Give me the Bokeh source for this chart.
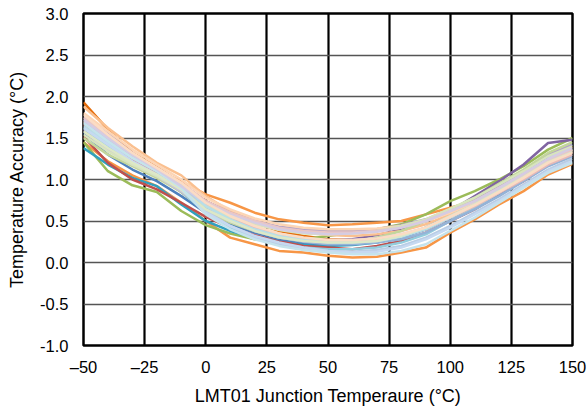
from bokeh.plotting import figure
from bokeh.models import FixedTicker, CustomJSTickFormatter, NumeralTickFormatter, Range1d
from bokeh.embed import file_html
from bokeh.resources import INLINE

temps = [-50, -40, -30, -20, -10, 0, 10, 20, 30, 40, 50, 60, 70, 80, 90, 100, 110, 120, 130, 140, 150]

x_ticks = [-50, -25, 0, 25, 50, 75, 100, 125, 150]
y_ticks = [-1.0, -0.5, 0.0, 0.5, 1.0, 1.5, 2.0, 2.5, 3.0]

unit01 = [1.93, 1.60, 1.32, 1.15, 0.95, 0.74, 0.60, 0.48, 0.38, 0.32, 0.28, 0.27, 0.28, 0.32, 0.40, 0.55, 0.70, 0.85, 1.02, 1.22, 1.40]
unit02 = [1.70, 1.45, 1.25, 1.10, 0.98, 0.82, 0.72, 0.60, 0.52, 0.48, 0.45, 0.46, 0.48, 0.50, 0.58, 0.66, 0.74, 0.90, 1.06, 1.22, 1.36]
unit03 = [1.45, 1.22, 1.05, 0.92, 0.72, 0.50, 0.30, 0.22, 0.14, 0.12, 0.08, 0.06, 0.07, 0.12, 0.18, 0.36, 0.52, 0.70, 0.86, 1.06, 1.19]
unit04 = [1.45, 1.10, 0.93, 0.85, 0.62, 0.45, 0.35, 0.28, 0.26, 0.28, 0.32, 0.36, 0.40, 0.46, 0.58, 0.74, 0.86, 1.00, 1.16, 1.36, 1.50]
unit05 = [1.38, 1.18, 1.02, 0.92, 0.70, 0.50, 0.38, 0.30, 0.25, 0.22, 0.20, 0.21, 0.24, 0.30, 0.42, 0.58, 0.72, 0.88, 1.06, 1.28, 1.42]
unit06 = [1.60, 1.38, 1.22, 1.05, 0.85, 0.62, 0.47, 0.36, 0.30, 0.27, 0.26, 0.28, 0.33, 0.40, 0.50, 0.62, 0.80, 0.98, 1.18, 1.44, 1.48]
unit07 = [1.52, 1.20, 1.00, 0.88, 0.72, 0.55, 0.42, 0.33, 0.26, 0.20, 0.18, 0.16, 0.20, 0.26, 0.36, 0.50, 0.64, 0.82, 0.98, 1.18, 1.32]
unit08 = [1.56, 1.30, 1.12, 0.98, 0.80, 0.60, 0.46, 0.36, 0.28, 0.24, 0.22, 0.22, 0.25, 0.30, 0.40, 0.54, 0.66, 0.82, 1.00, 1.18, 1.30]
unit09 = [1.88, 1.62, 1.40, 1.20, 1.05, 0.80, 0.62, 0.50, 0.42, 0.36, 0.33, 0.32, 0.34, 0.38, 0.46, 0.58, 0.72, 0.88, 1.04, 1.22, 1.35]
unit10 = [1.75, 1.55, 1.32, 1.12, 0.92, 0.74, 0.60, 0.50, 0.43, 0.40, 0.38, 0.38, 0.40, 0.45, 0.52, 0.64, 0.76, 0.92, 1.10, 1.30, 1.42]
unit11 = [1.66, 1.45, 1.25, 1.08, 0.90, 0.68, 0.52, 0.40, 0.31, 0.26, 0.24, 0.24, 0.27, 0.32, 0.42, 0.55, 0.68, 0.85, 1.02, 1.20, 1.33]
unit12 = [1.50, 1.30, 1.16, 1.02, 0.85, 0.62, 0.48, 0.38, 0.30, 0.26, 0.24, 0.25, 0.30, 0.38, 0.50, 0.64, 0.78, 0.95, 1.12, 1.32, 1.45]
unit13 = [1.62, 1.40, 1.20, 1.05, 0.86, 0.60, 0.42, 0.30, 0.22, 0.18, 0.16, 0.16, 0.18, 0.24, 0.34, 0.50, 0.66, 0.84, 1.04, 1.24, 1.37]
unit14 = [1.72, 1.50, 1.28, 1.10, 0.90, 0.66, 0.50, 0.38, 0.30, 0.25, 0.22, 0.22, 0.24, 0.28, 0.36, 0.50, 0.64, 0.80, 0.98, 1.16, 1.28]
unit15 = [1.80, 1.58, 1.36, 1.18, 1.00, 0.78, 0.64, 0.53, 0.46, 0.42, 0.40, 0.40, 0.41, 0.44, 0.50, 0.60, 0.72, 0.88, 1.04, 1.22, 1.34]
unit16 = [1.58, 1.36, 1.18, 1.04, 0.86, 0.64, 0.50, 0.40, 0.33, 0.29, 0.27, 0.27, 0.29, 0.34, 0.42, 0.56, 0.70, 0.86, 1.04, 1.22, 1.34]
unit17 = [1.68, 1.48, 1.28, 1.12, 0.94, 0.70, 0.54, 0.42, 0.34, 0.29, 0.26, 0.26, 0.28, 0.33, 0.41, 0.54, 0.68, 0.84, 1.00, 1.18, 1.30]
unit18 = [1.54, 1.34, 1.18, 1.04, 0.88, 0.68, 0.55, 0.46, 0.39, 0.35, 0.34, 0.35, 0.38, 0.44, 0.52, 0.65, 0.78, 0.94, 1.10, 1.28, 1.40]
unit19 = [1.64, 1.44, 1.26, 1.10, 0.92, 0.68, 0.52, 0.40, 0.32, 0.27, 0.24, 0.24, 0.26, 0.31, 0.40, 0.54, 0.70, 0.87, 1.05, 1.24, 1.36]
unit20 = [1.70, 1.48, 1.30, 1.12, 0.94, 0.62, 0.44, 0.30, 0.22, 0.17, 0.14, 0.13, 0.15, 0.20, 0.30, 0.44, 0.60, 0.76, 0.94, 1.12, 1.25]
unit21 = [1.62, 1.42, 1.22, 1.06, 0.88, 0.60, 0.44, 0.32, 0.24, 0.18, 0.14, 0.12, 0.13, 0.18, 0.28, 0.42, 0.58, 0.74, 0.92, 1.10, 1.22]
unit22 = [1.74, 1.52, 1.30, 1.14, 0.96, 0.74, 0.60, 0.50, 0.42, 0.38, 0.36, 0.36, 0.38, 0.42, 0.50, 0.62, 0.74, 0.90, 1.06, 1.24, 1.36]
unit23 = [1.58, 1.38, 1.20, 1.06, 0.88, 0.64, 0.50, 0.38, 0.30, 0.26, 0.24, 0.24, 0.26, 0.32, 0.42, 0.56, 0.70, 0.86, 1.03, 1.21, 1.33]
unit24 = [1.68, 1.46, 1.26, 1.10, 0.90, 0.58, 0.40, 0.28, 0.20, 0.15, 0.12, 0.10, 0.10, 0.14, 0.22, 0.38, 0.54, 0.72, 0.90, 1.08, 1.20]
unit25 = [1.72, 1.50, 1.30, 1.12, 0.92, 0.72, 0.58, 0.48, 0.40, 0.36, 0.34, 0.35, 0.37, 0.42, 0.50, 0.62, 0.74, 0.90, 1.07, 1.25, 1.38]
unit26 = [1.78, 1.54, 1.32, 1.14, 0.96, 0.72, 0.56, 0.44, 0.35, 0.30, 0.27, 0.27, 0.29, 0.34, 0.42, 0.55, 0.69, 0.85, 1.02, 1.20, 1.32]

series = [unit01, unit02, unit03, unit04, unit05, unit06, unit07, unit08, unit09, unit10,
          unit11, unit12, unit13, unit14, unit15, unit16, unit17, unit18, unit19, unit20,
          unit21, unit22, unit23, unit24, unit25, unit26]

colors = ["#E46C0A", "#F79646", "#F79646", "#9BBB59", "#31A0BE", "#8064A2", "#C0504D", "#4F81BD",
          "#FAC090", "#B3A2C7", "#D99694", "#C3D69B", "#93CDDD", "#95B3D7", "#FCD5B5", "#CCC1DA",
          "#E6B9B8", "#D7E4BD", "#B7DEE8", "#B9CDE5", "#C6D9F1", "#EAC6C5", "#DDE8C6", "#C5E3EC",
          "#D5CCE2", "#FBDCC4"]

FONT = "Liberation Sans"

p = figure(width=587, height=409, output_backend="svg", toolbar_location=None,
           x_range=Range1d(-50, 150), y_range=Range1d(-1.0, 3.0),
           min_border_left=83, min_border_right=15, min_border_top=13, min_border_bottom=64)

for ys, c in zip(series, colors):
    p.line(temps, ys, line_color=c, line_width=2.5, line_join="round")

p.outline_line_color = "black"
p.outline_line_width = 2.5

p.xgrid.ticker = FixedTicker(ticks=x_ticks)
p.ygrid.ticker = FixedTicker(ticks=y_ticks)
p.xgrid.grid_line_color = "black"
p.xgrid.grid_line_width = 2.2
p.ygrid.grid_line_color = "#555555"
p.ygrid.grid_line_width = 1.5
p.grid.level = "underlay"

p.xaxis.ticker = FixedTicker(ticks=x_ticks)
p.yaxis.ticker = FixedTicker(ticks=y_ticks)
p.xaxis.formatter = CustomJSTickFormatter(code="return tick < 0 ? '\u2013' + Math.abs(tick) : String(tick);")
p.yaxis.formatter = NumeralTickFormatter(format="0.0")

for ax in (p.xaxis[0], p.yaxis[0]):
    ax.axis_line_color = None
    ax.major_tick_line_color = None
    ax.minor_tick_line_color = None
    ax.major_tick_out = 0
    ax.major_tick_in = 0
    ax.minor_tick_out = 0
    ax.minor_tick_in = 0
    ax.major_label_text_font = FONT
    ax.major_label_text_font_size = "16.5px"
    ax.major_label_text_color = "black"
    ax.axis_label_text_font = FONT
    ax.axis_label_text_font_size = "18px"
    ax.axis_label_text_font_style = "normal"
    ax.axis_label_text_color = "black"

p.xaxis.axis_label = "LMT01 Junction Temperaure (°C)"
p.yaxis.axis_label = "Temperature Accuracy (°C)"
p.xaxis.major_label_standoff = 12
p.xaxis.axis_label_standoff = 7
p.yaxis.major_label_standoff = 15
p.yaxis.axis_label_standoff = 10

open("out.html", "w").write(file_html(p, INLINE))
